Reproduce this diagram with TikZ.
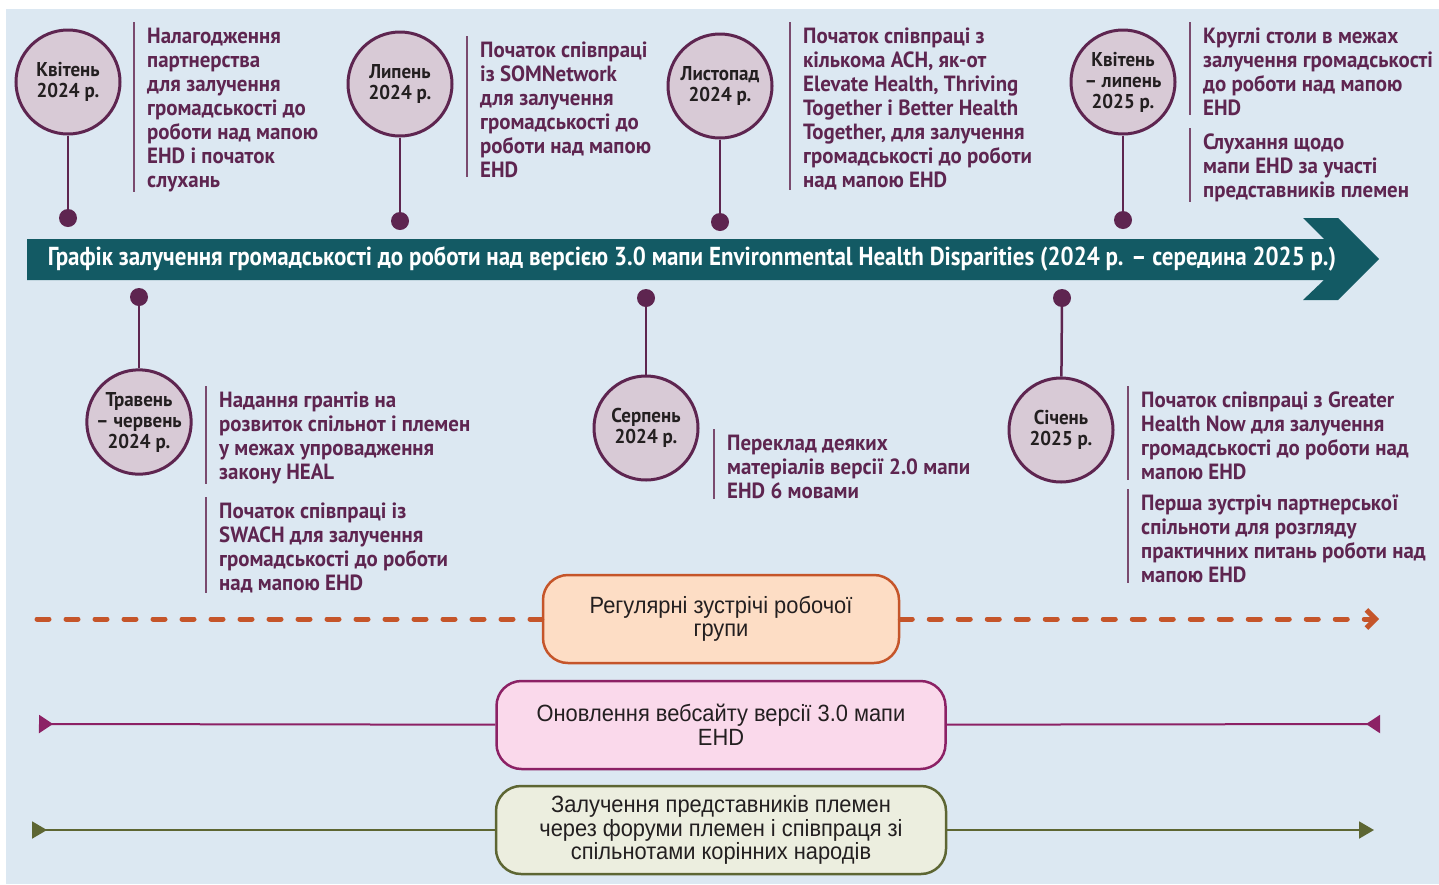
\documentclass[tikz,border=0pt]{standalone}
\usepackage{fontspec}
\usetikzlibrary{arrows.meta}

\newfontfamily\narrowb[FakeStretch=0.95]{PT Sans}
\newfontfamily\titlefont[FakeStretch=0.885]{PT Sans}
\newfontfamily\narrowr[FakeStretch=0.93]{Liberation Sans}

\definecolor{bgblue}{RGB}{220,232,242}
\definecolor{arrowteal}{RGB}{19,90,100}
\definecolor{plum}{RGB}{94,37,80}
\definecolor{mauve}{RGB}{216,202,214}
\definecolor{rulecol}{RGB}{122,74,110}
\definecolor{ink}{RGB}{35,31,32}
\definecolor{rust}{RGB}{197,85,42}
\definecolor{peach}{RGB}{253,221,197}
\definecolor{berry}{RGB}{140,33,101}
\definecolor{blush}{RGB}{250,217,235}
\definecolor{olive}{RGB}{93,102,51}
\definecolor{sage}{RGB}{236,238,223}

\tikzset{
  month/.style={circle, draw=plum, line width=3pt, fill=mauve, minimum size=104pt,
    inner sep=0pt, align=center, text=ink, font=\narrowb\bfseries\fontsize{20}{21}\selectfont},
  pin/.style={circle, fill=plum, minimum size=18pt, inner sep=0pt},
  stem/.style={draw=plum, line width=2.5pt},
  event/.style={anchor=base west, align=left, inner sep=0pt, text=plum,
    font=\narrowb\bfseries\fontsize{22}{24}\selectfont},
  rule/.style={draw=rulecol, line width=1.5pt},
  band/.style={rounded corners=25pt, line width=2.5pt, minimum height=88pt, align=center,
    text=ink, font=\narrowr\fontsize{23.5}{23.5}\selectfont},
}

\begin{document}
\begin{tikzpicture}[x=1pt,y=-1pt]

\useasboundingbox (0,0) rectangle (1439,884);
\fill[white] (0,0) rectangle (1439,884);
\fill[bgblue] (6,9) rectangle (1439,884);

% main arrow
\fill[arrowteal] (27,239) -- (1324,239) -- (1303,218) -- (1338,218) -- (1379,259)
  -- (1338,300) -- (1303,300) -- (1324,280) -- (27,280) -- cycle;
\node[text=white, font=\titlefont\bfseries\fontsize{26}{30}\selectfont] (title) at (692,259)
  {Графік залучення громадськості до роботи над версією 3.0 мапи Environmental Health Disparities (2024 р. – середина 2025 р.)};

% months above the arrow
\node[month] (m1) at (68,82) {Квітень\\2024 р.};
\node[month] (m2) at (400,84) {Липень\\2024 р.};
\node[month] (m3) at (720,86) {Листопад\\2024 р.};
\node[month] (m4) at (1123,82) {Квітень\\– липень\\2025 р.};
\node[pin] (p1) at (68,218) {};
\node[pin] (p2) at (400,221) {};
\node[pin] (p3) at (720,222) {};
\node[pin] (p4) at (1123,220) {};
\draw[stem] (m1) -- (p1);
\draw[stem] (m2) -- (p2);
\draw[stem] (m3) -- (p3);
\draw[stem] (m4) -- (p4);

% months below the arrow
\node[month] (m5) at (139,422) {Травень\\– червень\\2024 р.};
\node[month] (m6) at (646,428) {Серпень\\2024 р.};
\node[month] (m7) at (1061,430) {Січень\\2025 р.};
\node[pin] (p5) at (139,297) {};
\node[pin] (p6) at (646,298) {};
\node[pin] (p7) at (1062,298) {};
\draw[stem] (p5) -- (m5);
\draw[stem] (p6) -- (m6);
\draw[stem] (p7) -- (m7);

% events (placed at the baseline of their last line)
\node[event] (e1) at (147,187) {Налагодження\\партнерства\\для залучення\\громадськості до\\роботи над мапою\\EHD і початок\\слухань};
\node[event] (e2) at (480,177) {Початок співпраці\\із SOMNetwork\\для залучення\\громадськості до\\роботи над мапою\\EHD};
\node[event] (e3) at (803,187) {Початок співпраці з\\кількома ACH, як-от\\Elevate Health, Thriving\\Together і Better Health\\Together, для залучення\\громадськості до роботи\\над мапою EHD};
\node[event] (e4) at (1203,115) {Круглі столи в межах\\залучення громадськості\\до роботи над мапою\\EHD};
\node[event] (e4b) at (1203,197) {Слухання щодо\\мапи EHD за участі\\представників племен};
\node[event] (e5) at (219,479) {Надання грантів на\\розвиток спільнот і племен\\у межах упровадження\\закону HEAL};
\node[event] (e5b) at (219,590) {Початок співпраці із\\SWACH для залучення\\громадськості до роботи\\над мапою EHD};
\node[event] (e6) at (727,498) {Переклад деяких\\матеріалів версії 2.0 мапи\\EHD 6 мовами};
\node[event] (e7) at (1141,479) {Початок співпраці з Greater\\Health Now для залучення\\громадськості до роботи над\\мапою EHD};
\node[event] (e7b) at (1141,582) {Перша зустріч партнерської\\спільноти для розгляду\\практичних питань роботи над\\мапою EHD};
\foreach \e in {e1,e2,e3,e4,e4b,e5,e5b,e6,e7,e7b}
  \draw[rule] ([xshift=-13pt,yshift=5pt]\e.north west) -- ([xshift=-13pt]\e.south west);

% ongoing work
\node[band, draw=rust, fill=peach, minimum width=356pt] (b1) at (721,619) {Регулярні зустрічі робочої\\групи};
\node[band, draw=berry, fill=blush, minimum width=449pt] (b2) at (721,725) {Оновлення вебсайту версії 3.0 мапи\\EHD};
\node[band, draw=olive, fill=sage, minimum width=450pt] (b3) at (721,830) {Залучення представників племен\\через форуми племен і співпраця зі\\спільнотами корінних народів};

\coordinate (r1a) at (37,619);
\coordinate (r1b) at (1379,619);
\coordinate (r2a) at (39,724);
\coordinate (r2b) at (1380,724);
\coordinate (r3a) at (32,830);
\coordinate (r3b) at (1374,830);

\draw[rust, line width=5pt, line cap=round, dash pattern=on 12pt off 17pt] (r1a) -- (b1);
\draw[rust, line width=5pt, line cap=round, dash pattern=on 12pt off 17pt,
  -{Straight Barb[length=9pt,width=18pt]}] (b1) -- (r1b);
\draw[berry, line width=2pt, {Triangle[reversed,length=14pt,width=18pt]}-] (r2a) -- (b2);
\draw[berry, line width=2pt, -{Triangle[reversed,length=14pt,width=18pt]}] (b2) -- (r2b);
\draw[olive, line width=2pt, {Triangle[reversed,length=15pt,width=17pt]}-] (r3a) -- (b3);
\draw[olive, line width=2pt, -{Triangle[length=15pt,width=17pt]}] (b3) -- (r3b);

\end{tikzpicture}
\end{document}
